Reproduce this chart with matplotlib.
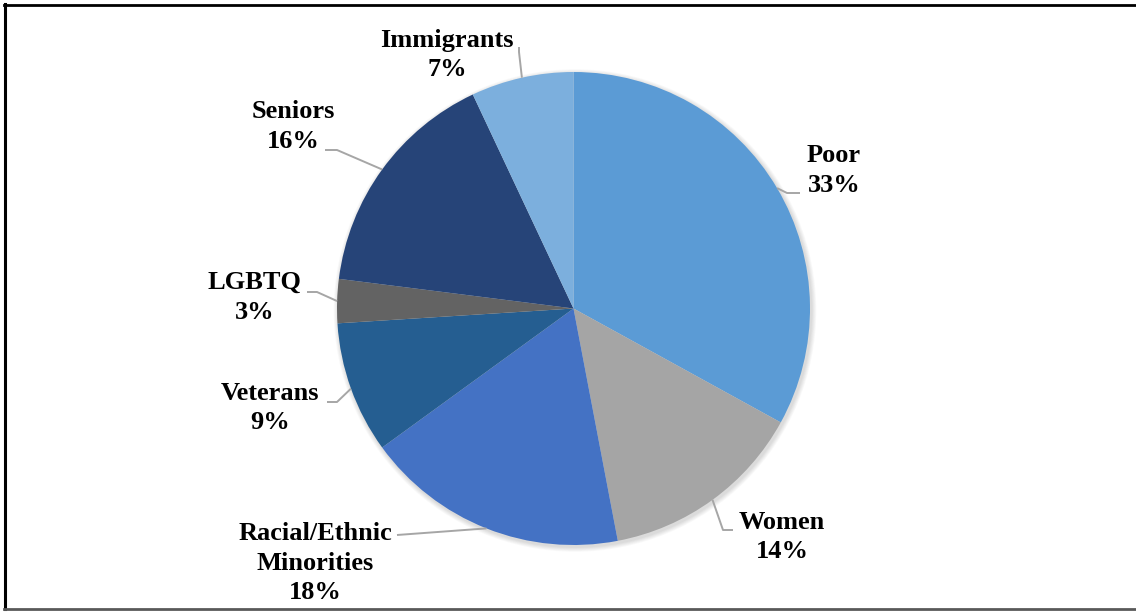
import numpy as np
import matplotlib
matplotlib.use("Agg")
import matplotlib.pyplot as plt
from matplotlib.lines import Line2D
from matplotlib.patches import Circle

# Share of marginalized groups (percent)
groups = ["Poor", "Women", "Racial/Ethnic\nMinorities", "Veterans", "LGBTQ", "Seniors", "Immigrants"]
shares = [33, 14, 18, 9, 3, 16, 7]
colors = ["#5B9BD5", "#A5A5A5", "#4472C4", "#255E91", "#636363", "#264478", "#7CAFDD"]

W, H = 1136, 612
fig = plt.figure(figsize=(W / 100, H / 100), dpi=100)
ax = fig.add_axes([0, 0, 1, 1])
ax.set_xlim(0, W)
ax.set_ylim(0, H)
ax.set_aspect("equal")
ax.axis("off")


def Y(y):
    """Convert a top-down pixel row into axis coordinates."""
    return H - y


cx, cy, r = 573.5, Y(308.5), 236.5

# soft shadow around the pie
for k in range(6, 0, -1):
    ax.add_patch(Circle((cx + 1.5, cy - 2), r + k * 0.8, color="black",
                        alpha=0.025, lw=0, zorder=1))

wedges, _ = ax.pie(shares, colors=colors, startangle=90, counterclock=False,
                   center=(cx, cy), radius=r, frame=True,
                   wedgeprops=dict(linewidth=0, zorder=2))
ax.set_xlim(0, W)
ax.set_ylim(0, H)
ax.axis("off")

# label block centres and leader-line start/elbow points (pixel rows from top)
label_pos = [(834, 170.5), (782, 537), (315, 563), (270, 408), (255, 297.5), (293.5, 126.5), (447, 55)]
leader_pts = [
    [(800, 193), (787, 193)],
    [(733, 530), (723, 530)],
    [(397, 535)],
    [(327, 402), (337, 402)],
    [(307, 292), (317, 292)],
    [(325, 150), (337, 150)],
    [(519, 47), (519, 52)],
]

font = dict(family="Liberation Serif", fontweight="bold", fontsize=19)

for w, name, val, (lx, ly), pts in zip(wedges, groups, shares, label_pos, leader_pts):
    mid = np.deg2rad((w.theta1 + w.theta2) / 2)
    ax_x = cx + r * np.cos(mid)
    ax_y = cy + r * np.sin(mid)
    xs = [p[0] for p in pts] + [ax_x]
    ys = [Y(p[1]) for p in pts] + [ax_y]
    ax.add_line(Line2D(xs, ys, color="#A6A6A6", lw=1.4, zorder=3,
                       solid_capstyle="butt"))
    ax.text(lx, Y(ly), f"{name}\n{val}%", ha="center", va="center",
            multialignment="center", linespacing=1.38, color="black",
            zorder=4, **font)

# frame around the chart
ax.add_line(Line2D([5, 5], [Y(4), Y(609)], color="black", lw=2.2, zorder=5))
ax.add_line(Line2D([4, W], [Y(4.5), Y(4.5)], color="black", lw=2.0, zorder=5))
ax.add_line(Line2D([4, W], [Y(608.5), Y(608.5)], color="#595959", lw=2.0, zorder=5))

fig.savefig("out.png", dpi=100, facecolor="white")
